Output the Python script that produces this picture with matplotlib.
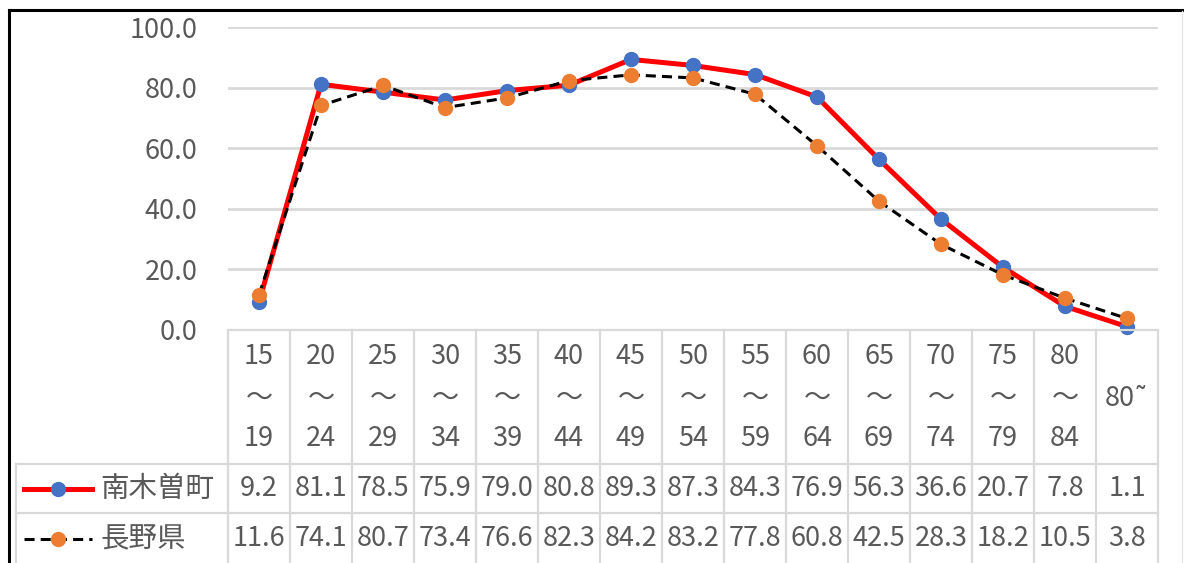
import numpy as np
import matplotlib.pyplot as plt
from matplotlib.lines import Line2D

plt.rcParams['font.family'] = ['Noto Sans CJK JP', 'DejaVu Sans']

age_top = ['15', '20', '25', '30', '35', '40', '45', '50', '55', '60', '65', '70', '75', '80', '80˜']
age_bottom = ['19', '24', '29', '34', '39', '44', '49', '54', '59', '64', '69', '74', '79', '84', '']
nagiso = [9.2, 81.1, 78.5, 75.9, 79.0, 80.8, 89.3, 87.3, 84.3, 76.9, 56.3, 36.6, 20.7, 7.8, 1.1]
nagano = [11.6, 74.1, 80.7, 73.4, 76.6, 82.3, 84.2, 83.2, 77.8, 60.8, 42.5, 28.3, 18.2, 10.5, 3.8]
series_names = ['南木曽町', '長野県']

W, H = 1184, 563
txt = '#595959'
grid = '#d9d9d9'
dash = (0, (3.3, 2))

fig = plt.figure(figsize=(W / 100, H / 100), dpi=100)


def fy(py):
    return 1 - py / H


def fx(px):
    return px / W


left, right, top, bottom = 228, 1158, 27, 330
ax = fig.add_axes([fx(left), fy(bottom), fx(right - left), (bottom - top) / H])
x = np.arange(len(nagiso))
ax.set_xlim(-0.5, len(x) - 0.5)
ax.set_ylim(0, 100)
ax.set_yticks(np.arange(0, 101, 20))
ax.set_yticklabels([f'{v:.1f}' for v in np.arange(0, 101, 20)], fontsize=19.5, color=txt)
ax.tick_params(axis='y', length=0, pad=22)
ax.set_xticks([])
for s in ax.spines.values():
    s.set_visible(False)
ax.grid(axis='y', color=grid, lw=2)
ax.set_axisbelow(True)

ax.plot(x, nagiso, color='#ff0000', lw=3.6, marker='o', ms=10,
        mfc='#4472c4', mec='#4472c4', zorder=3, clip_on=False)
ax.plot(x, nagano, color='black', lw=2.2, ls=dash, marker='o', ms=10,
        mfc='#ed7d31', mec='#ed7d31', zorder=4, clip_on=False)

# table
row1, row2 = 464, 513
for i in range(len(x) + 1):
    xf = fx(ax.transData.transform((i - 0.5, 0))[0])
    fig.add_artist(Line2D([xf, xf], [fy(bottom), 0], color=grid, lw=1.6))
fig.add_artist(Line2D([fx(16), fx(16)], [fy(row1), 0], color=grid, lw=1.6))
fig.add_artist(Line2D([fx(left), fx(right)], [fy(bottom), fy(bottom)], color=grid, lw=1.6))
for r in (row1, row2):
    fig.add_artist(Line2D([fx(16), fx(right)], [fy(r), fy(r)], color=grid, lw=1.6))

fs = 19.5
for i in range(len(x)):
    xf = fx(ax.transData.transform((i, 0))[0])
    if age_bottom[i]:
        fig.text(xf, fy(357), age_top[i], ha='center', va='center', fontsize=fs, color=txt)
        fig.text(xf, fy(398), '～', ha='center', va='center', fontsize=fs, color=txt)
        fig.text(xf, fy(438), age_bottom[i], ha='center', va='center', fontsize=fs, color=txt)
    else:
        fig.text(xf, fy(398), age_top[i], ha='center', va='center', fontsize=fs, color=txt)
    fig.text(xf, fy(489), f'{nagiso[i]:.1f}', ha='center', va='center', fontsize=fs, color=txt)
    fig.text(xf, fy(539), f'{nagano[i]:.1f}', ha='center', va='center', fontsize=fs, color=txt)

# legend keys in table
fig.add_artist(Line2D([fx(24), fx(92)], [fy(489), fy(489)], color='#ff0000', lw=3.6))
fig.add_artist(Line2D([fx(58)], [fy(489)], marker='o', ms=10, mfc='#4472c4', mec='#4472c4'))
fig.add_artist(Line2D([fx(24), fx(92)], [fy(539), fy(539)], color='black', lw=2.2, ls=dash))
fig.add_artist(Line2D([fx(58)], [fy(539)], marker='o', ms=10, mfc='#ed7d31', mec='#ed7d31'))
fig.text(fx(100), fy(489), series_names[0], ha='left', va='center', fontsize=20.5, color=txt)
fig.text(fx(100), fy(539), series_names[1], ha='left', va='center', fontsize=20.5, color=txt)

# outer frame
fig.add_artist(Line2D([fx(9), fx(9)], [fy(10), 0], color='black', lw=2.2))
fig.add_artist(Line2D([fx(9), 1], [fy(10), fy(10)], color='black', lw=2.2))
fig.add_artist(Line2D([fx(1182), fx(1182)], [fy(11), 0], color='#e6e6e6', lw=1))

fig.savefig('out.png', dpi=100)
